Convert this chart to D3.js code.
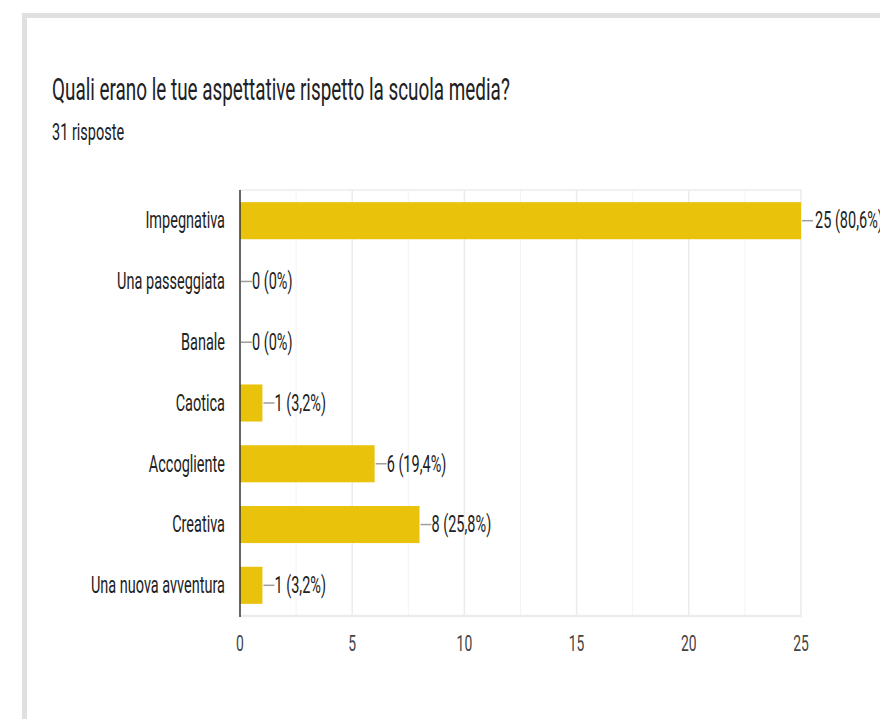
<!DOCTYPE html>
<html>
<head>
<meta charset="utf-8">
<script src="https://cdn.jsdelivr.net/npm/d3@7"></script>
<style>
  body { margin: 0; background: #fff; }
  svg { display: block; font-family: Roboto, "Noto Sans", sans-serif; }
</style>
</head>
<body>
<div id="chart"></div>
<script>
var title = "Quali erano le tue aspettative rispetto la scuola media?";
var subtitle = "31 risposte";
var categories = ["Impegnativa", "Una passeggiata", "Banale", "Caotica", "Accogliente", "Creativa", "Una nuova avventura"];
var counts = [25, 0, 0, 1, 6, 8, 1];
var percents = ["80,6%", "0%", "0%", "3,2%", "19,4%", "25,8%", "3,2%"];
var ticks = [0, 5, 10, 15, 20, 25];
var minorTicks = [2.5, 7.5, 12.5, 17.5, 22.5];

var width = 880, height = 719;
var svg = d3.select("#chart").append("svg")
    .attr("width", width)
    .attr("height", height);

// card frame
svg.append("rect").attr("x", 22).attr("y", 13).attr("width", width).attr("height", 5).attr("fill", "#e0e0e0");
svg.append("rect").attr("x", 22).attr("y", 13).attr("width", 5).attr("height", height).attr("fill", "#e0e0e0");

// the screenshot is squeezed horizontally, so text is narrowed
var sx = 1;
var label = function (sel, x, y, anchor, k) {
    sel.attr("transform", "translate(" + x + "," + y + ") scale(" + (sx * (k || 1)) + ",1)")
        .attr("text-anchor", anchor || "start");
    return sel;
};

var titleText = svg.append("text")
    .attr("font-size", 31)
    .attr("fill", "#202124")
    .text(title);
sx = 458 / titleText.node().getComputedTextLength();
label(titleText, 52, 100);

var small = 1.035;
label(svg.append("text").attr("font-size", 23).attr("fill", "#202124").text(subtitle), 52, 140, "start", small);

var x = d3.scaleLinear().domain([0, 25]).range([240, 801]);
var y = d3.scaleBand().domain(categories).range([190, 616]).paddingInner(0.39).paddingOuter(0.2);

var grid = svg.append("g");
grid.selectAll(".minor").data(minorTicks).enter().append("line")
    .attr("x1", function (d) { return x(d); })
    .attr("x2", function (d) { return x(d); })
    .attr("y1", 190).attr("y2", 616)
    .attr("stroke", "#f3f3f3").attr("stroke-width", 1);
grid.selectAll(".major").data(ticks.slice(1)).enter().append("line")
    .attr("x1", function (d) { return x(d); })
    .attr("x2", function (d) { return x(d); })
    .attr("y1", 190).attr("y2", 616)
    .attr("stroke", "#ebebeb").attr("stroke-width", 1.5);
grid.append("line").attr("x1", 240).attr("x2", 802).attr("y1", 190).attr("y2", 190)
    .attr("stroke", "#ececec").attr("stroke-width", 1.5);
grid.append("line").attr("x1", 240).attr("x2", 802).attr("y1", 616).attr("y2", 616)
    .attr("stroke", "#ececec").attr("stroke-width", 2.5);

var data = categories.map(function (c, i) {
    return { name: c, value: counts[i], pct: percents[i] };
});

var row = svg.selectAll(".row").data(data).enter().append("g").attr("class", "row");
row.append("rect")
    .attr("x", x(0))
    .attr("y", function (d) { return y(d.name); })
    .attr("width", function (d) { return x(d.value) - x(0); })
    .attr("height", y.bandwidth())
    .attr("fill", "#e8c20b");
row.append("line")
    .attr("x1", function (d) { return x(d.value) + 1; })
    .attr("x2", function (d) { return x(d.value) + 12; })
    .attr("y1", function (d) { return y(d.name) + y.bandwidth() / 2; })
    .attr("y2", function (d) { return y(d.name) + y.bandwidth() / 2; })
    .attr("stroke", "#9e9e9e").attr("stroke-width", 1.5);
row.append("text")
    .attr("font-size", 23)
    .attr("fill", "#222")
    .attr("dominant-baseline", "central")
    .text(function (d) { return d.value + " (" + d.pct + ")"; })
    .each(function (d) {
        label(d3.select(this), x(d.value) + (d.value === 25 ? 14 : 12), y(d.name) + y.bandwidth() / 2, "start", small);
    });
row.append("text")
    .attr("font-size", 23)
    .attr("fill", "#222")
    .attr("dominant-baseline", "central")
    .text(function (d) { return d.name; })
    .each(function (d) {
        label(d3.select(this), 225, y(d.name) + y.bandwidth() / 2, "end", small);
    });

// vertical axis line
svg.append("line").attr("x1", 240).attr("x2", 240).attr("y1", 190).attr("y2", 617)
    .attr("stroke", "#333").attr("stroke-width", 1.5);

svg.selectAll(".tick").data(ticks).enter().append("text")
    .attr("font-size", 22)
    .attr("fill", "#444")
    .text(function (d) { return d; })
    .each(function (d) {
        label(d3.select(this), x(d), 651, "middle", small);
    });
</script>
</body>
</html>
